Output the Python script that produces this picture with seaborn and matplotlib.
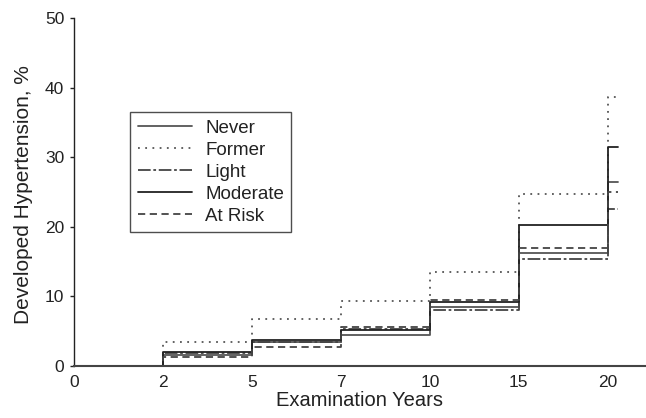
import matplotlib
matplotlib.use("Agg")
import matplotlib.pyplot as plt
import seaborn as sns
import pandas as pd

# examination visits (years) and cumulative % developing hypertension
years = [0, 2, 5, 7, 10, 15, 20]
never = [0, 1.6, 3.5, 4.45, 8.5, 16.3, 26.4]
former = [0, 3.45, 6.8, 9.3, 13.55, 24.7, 38.7]
light = [0, 1.8, 3.45, 5.3, 8.1, 15.4, 22.5]
moderate = [0, 2.0, 3.7, 5.2, 9.25, 20.3, 31.4]
at_risk = [0, 1.25, 2.8, 5.65, 9.5, 17.0, 25.0]

groups = ["Never", "Former", "Light", "Moderate", "At Risk"]
series = [never, former, light, moderate, at_risk]

rows = []
for g, vals in zip(groups, series):
    for i, v in enumerate(vals):
        rows.append({"pos": i, "value": v, "group": g})
    # short tail after the last visit so the final step shows
    rows.append({"pos": len(vals) - 1 + 0.11, "value": vals[-1], "group": g})
df = pd.DataFrame(rows)

sns.set_theme(style="white")
plt.rcParams["font.family"] = ["Liberation Sans", "DejaVu Sans"]

fig, ax = plt.subplots(figsize=(6.46, 4.18), dpi=100)
fig.subplots_adjust(left=74 / 646, right=1.0, top=1 - 18 / 418, bottom=1 - 366 / 418)

palette = {"Never": "#555555", "Former": "#555555", "Light": "#444444",
           "Moderate": "#222222", "At Risk": "#444444"}
dashes = {"Never": "", "Former": (1, 3), "Light": (7, 1.5, 1.5, 1.5),
          "Moderate": "", "At Risk": (4, 2.5)}

sns.lineplot(data=df, x="pos", y="value", hue="group", style="group",
             hue_order=groups, style_order=groups, palette=palette,
             dashes=dashes, drawstyle="steps-post", linewidth=1.3,
             estimator=None, sort=True, ax=ax)

ax.set_xlim(0, 6.43)
ax.set_ylim(0, 50)
ax.set_xticks(range(len(years)))
ax.set_xticklabels([str(y) for y in years])
ax.set_yticks([0, 10, 20, 30, 40, 50])
ax.tick_params(axis="x", length=0, labelsize=12.5, colors="#222222", pad=6.5)
ax.tick_params(axis="y", length=3, width=1, direction="out", left=True,
               labelsize=12.5, colors="#222222", pad=4)
ax.set_xlabel("Examination Years", fontsize=14.5, color="#222222")
ax.set_ylabel("Developed Hypertension, %", fontsize=15, color="#222222")
ax.xaxis.set_label_coords(0.5, -0.072)
ax.yaxis.set_label_coords(-0.072, 0.494)

sns.despine(ax=ax)
ax.spines["left"].set_color("#222222")
ax.spines["bottom"].set_color("#444444")
ax.spines["left"].set_linewidth(1.0)
ax.spines["bottom"].set_linewidth(1.5)

leg = ax.legend(loc="upper left", bbox_to_anchor=(0.098, 0.73), title=None,
                fontsize=13.5, frameon=True, fancybox=False, handlelength=2.9,
                handletextpad=0.7, labelspacing=0.26, borderpad=0.4,
                borderaxespad=0)
leg.get_frame().set_edgecolor("#222222")
leg.get_frame().set_linewidth(1.0)
for t in leg.get_texts():
    t.set_color("#222222")

fig.savefig("out.png", dpi=100)
